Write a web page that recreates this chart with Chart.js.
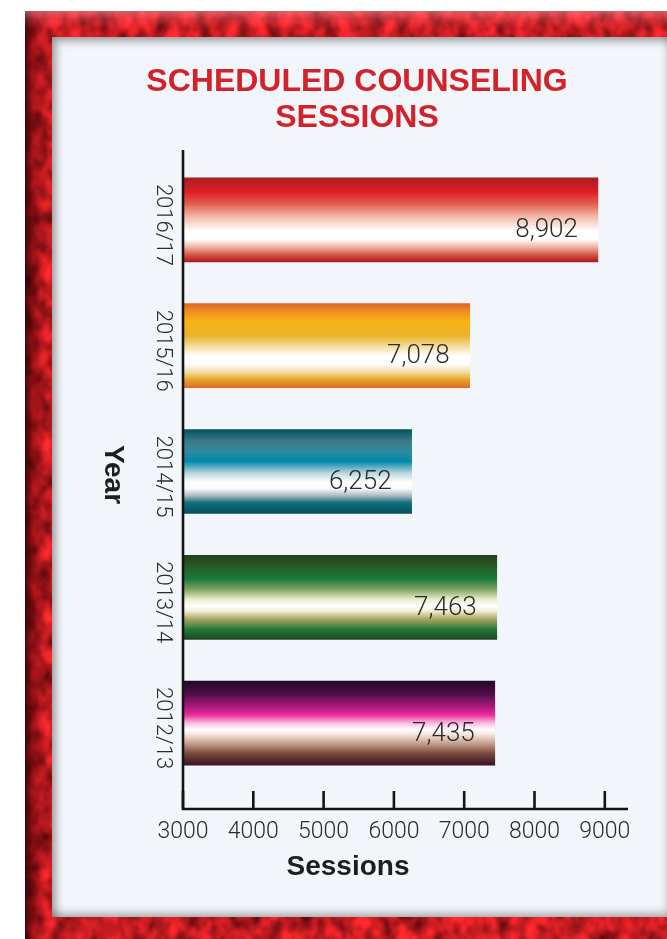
<!DOCTYPE html>
<html>
<head>
<meta charset="utf-8">
<script src="https://cdn.jsdelivr.net/npm/chart.js@4.4.1/dist/chart.umd.min.js"></script>
<style>
html,body{margin:0;padding:0;background:#fff;width:667px;height:939px;overflow:hidden;position:relative}
#frame{position:absolute;left:25px;top:11px;width:660px;height:940px;
 background:
  linear-gradient(180deg, rgba(250,170,180,.45) 0, rgba(230,110,120,.25) 8px, rgba(0,0,0,0) 18px),
  linear-gradient(90deg, rgba(30,0,3,.8) 0, rgba(70,0,6,.45) 8px, rgba(0,0,0,0) 22px),
  url("data:image/svg+xml;utf8,<svg xmlns='http://www.w3.org/2000/svg' width='700' height='960'><filter id='f' x='0' y='0' width='100%' height='100%' color-interpolation-filters='sRGB'><feTurbulence type='fractalNoise' baseFrequency='0.07 0.05' numOctaves='3' seed='7'/><feColorMatrix type='matrix' values='1.15 0 0 0 0.2  0.22 0 0 0 0  0.22 0 0 0 0.02  0 0 0 0 1'/><feGaussianBlur stdDeviation='0.8'/></filter><rect width='700' height='960' filter='url(%23f)'/></svg>"),
  #c5161f;
 background-size:100% 100%,100% 100%,700px 960px,auto;
 background-repeat:no-repeat;}
#panel{position:absolute;left:52px;top:37px;width:620px;height:880px;background:#f2f5f9;
 box-shadow:inset 4px 4px 9px rgba(0,0,0,.35), inset -4px -4px 9px rgba(0,0,0,.28);}
#chart{position:absolute;left:86px;top:37px;}
</style>
</head>
<body>
<div id="frame"></div>
<div id="panel"></div>
<canvas id="chart" width="581" height="880"></canvas>
<script>
// ---- data ----
const categories = ['2016/17', '2015/16', '2014/15', '2013/14', '2012/13'];
const sessions = [8902, 7078, 6252, 7463, 7435];
const xTicks = [3000, 4000, 5000, 6000, 7000, 8000, 9000];
const titleLines = ['SCHEDULED COUNSELING', 'SESSIONS'];
const xAxisTitle = 'Sessions';
const yAxisTitle = 'Year';

// ---- styles ----
const barGradients = [
  [[0,'#a81c22'],[0.17,'#e01f27'],[0.3,'#e2584a'],[0.46,'#f2b8a6'],[0.63,'#ffffff'],[0.73,'#ffffff'],[0.83,'#eeae9c'],[0.93,'#d0483a'],[1,'#ae1a1f']],
  [[0,'#de6526'],[0.1,'#f0921e'],[0.22,'#f8b417'],[0.38,'#e9b226'],[0.52,'#f7e0a8'],[0.62,'#ffffff'],[0.72,'#ffffff'],[0.82,'#f1d99c'],[0.9,'#e8a82a'],[1,'#df6a25']],
  [[0,'#03525e'],[0.14,'#3d7a88'],[0.26,'#2f8aa0'],[0.38,'#0089aa'],[0.52,'#bcd6e0'],[0.63,'#ffffff'],[0.7,'#fafcfc'],[0.79,'#a9b8c0'],[0.87,'#12707f'],[1,'#03505c']],
  [[0,'#263d1a'],[0.13,'#2a5a26'],[0.28,'#1a7a3d'],[0.4,'#79a060'],[0.52,'#e8ebc5'],[0.6,'#ffffff'],[0.66,'#f2f1da'],[0.76,'#aaa660'],[0.88,'#237a3c'],[1,'#1e4620']],
  [[0,'#220826'],[0.15,'#4c0f47'],[0.31,'#b0197f'],[0.4,'#ea2a9a'],[0.5,'#f8bde0'],[0.58,'#ffffff'],[0.65,'#f0dcd0'],[0.75,'#c09a88'],[0.86,'#7a4a3a'],[1,'#3a1228']]
];
const barFallback = ['#d0202a','#f2a51c','#0a7d96','#1f7a3a','#9a1a7a'];
const BAR_THICK = 84;
const AXIS_COLOR = '#141414';
const TEXT_COLOR = '#2b2b2b';

const axesPlugin = {
  id: 'customAxes',
  afterDatasetsDraw(chart) {
    const {ctx} = chart;
    const meta = chart.getDatasetMeta(0);
    ctx.save();
    ctx.fillStyle = TEXT_COLOR;
    ctx.font = '300 26px Roboto, "Liberation Sans", sans-serif';
    ctx.textAlign = 'right';
    ctx.textBaseline = 'middle';
    meta.data.forEach((el, i) => {
      ctx.fillText(sessions[i].toLocaleString('en-US'), el.x - 20, el.y + 11);
    });
    ctx.restore();
  },
  afterDraw(chart) {
    const {ctx, chartArea: a, scales} = chart;
    const axisY = a.bottom + 23;
    ctx.save();
    ctx.strokeStyle = AXIS_COLOR;
    ctx.lineWidth = 2.6;
    ctx.lineCap = 'butt';
    ctx.beginPath();
    ctx.moveTo(a.left, a.top - 7);
    ctx.lineTo(a.left, axisY);
    ctx.lineTo(a.right, axisY);
    ctx.stroke();
    scales.x.ticks.forEach(t => {
      const px = scales.x.getPixelForValue(t.value);
      ctx.beginPath();
      ctx.moveTo(px, axisY);
      ctx.lineTo(px, axisY - 18);
      ctx.stroke();
    });
    ctx.fillStyle = TEXT_COLOR;
    ctx.font = '300 22px Roboto, "Liberation Sans", sans-serif';
    ctx.textAlign = 'center';
    ctx.textBaseline = 'middle';
    scales.y.getLabels().forEach((lab, i) => {
      const py = scales.y.getPixelForValue(i);
      ctx.save();
      ctx.translate(a.left - 21, py + 5);
      ctx.rotate(Math.PI / 2);
      ctx.fillText(lab, 0, 0);
      ctx.restore();
    });
    ctx.fillStyle = '#1e1e1e';
    ctx.font = 'bold 28px "Liberation Sans", Arial, sans-serif';
    ctx.save();
    ctx.translate(a.left - 70, (a.top + a.bottom) / 2 + 3);
    ctx.rotate(Math.PI / 2);
    ctx.fillText(yAxisTitle, 0, 0);
    ctx.restore();
    ctx.fillText(xAxisTitle, a.left + 165, a.bottom + 81);
    ctx.restore();
  }
};

new Chart(document.getElementById('chart'), {
  type: 'bar',
  data: {
    labels: categories,
    datasets: [{
      data: sessions,
      base: 3000,
      barThickness: BAR_THICK,
      borderWidth: 0,
      backgroundColor: (c) => {
        const chart = c.chart;
        const area = chart.chartArea;
        if (!area || c.type !== 'data' || !chart.scales.y) return barFallback[c.dataIndex] || '#999';
        const y = chart.scales.y.getPixelForValue(c.dataIndex);
        const h = BAR_THICK / 2;
        const g = chart.ctx.createLinearGradient(0, y - h, 0, y + h);
        barGradients[c.dataIndex].forEach(([p, col]) => g.addColorStop(p, col));
        return g;
      }
    }]
  },
  options: {
    indexAxis: 'y',
    responsive: false,
    devicePixelRatio: 1,
    animation: false,
    layout: { padding: { left: 0, right: 39, top: 0, bottom: 0 } },
    plugins: {
      legend: { display: false },
      tooltip: { enabled: false },
      title: {
        display: true,
        text: titleLines,
        color: '#d2232a',
        font: { family: '"Liberation Sans", Arial, sans-serif', size: 32, weight: 'bold', lineHeight: 1.1 },
        padding: { top: 28, bottom: 21.6 }
      }
    },
    scales: {
      x: {
        min: 3000,
        max: 9330,
        afterBuildTicks: (s) => { s.ticks = xTicks.map(v => ({ value: v })); },
        afterFit: (s) => { s.height = 131; },
        grid: { display: false, drawTicks: false },
        border: { display: false },
        ticks: {
          color: TEXT_COLOR,
          font: { family: 'Roboto, "Liberation Sans", sans-serif', size: 23, weight: '300' },
          padding: 32,
          maxRotation: 0,
          autoSkip: false,
          callback: (v) => String(v)
        }
      },
      y: {
        afterFit: (s) => { s.width = 97; },
        grid: { display: false, drawTicks: false },
        border: { display: false },
        ticks: { display: false }
      }
    }
  },
  plugins: [axesPlugin]
});
</script>
</body>
</html>
